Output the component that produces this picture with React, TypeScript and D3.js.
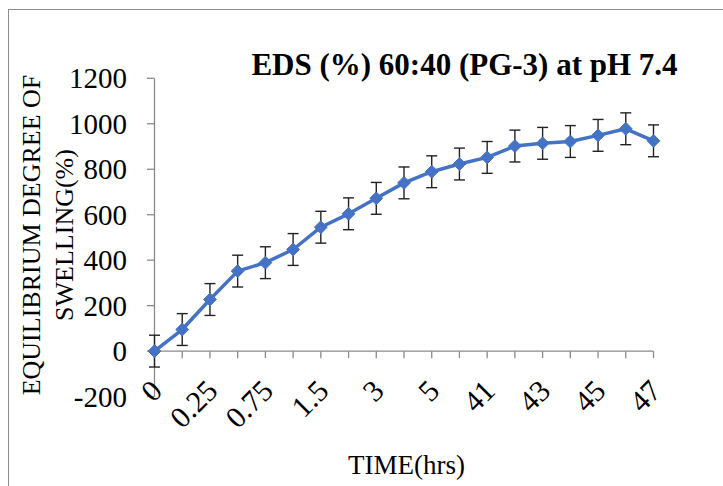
import React from "react";
import * as d3 from "d3";

const categories = ["0", "0.167", "0.25", "0.5", "0.75", "1", "1.5", "2", "3", "4", "5", "24", "41", "42", "43", "44", "45", "46", "47"];
const edsValues = [0, 95, 227, 352, 389, 447, 545, 604, 672, 740, 789, 823, 852, 902, 914, 922, 949, 978, 925];
const edsErrors = [70, 70, 70, 70, 70, 70, 70, 70, 70, 70, 70, 70, 70, 70, 70, 70, 70, 70, 70];
const yTicks = [-200, 0, 200, 400, 600, 800, 1000, 1200];
const titleText = "EDS (%) 60:40 (PG-3) at pH 7.4";
const yTitleLines = ["EQUILIBRIUM DEGREE OF", "SWELLING(%)"];
const xTitle = "TIME(hrs)";

const W = 723;
const H = 486;
const FONT = "'Liberation Serif', 'Times New Roman', serif";

export default function App() {
  const x = d3.scalePoint<string>().domain(categories).range([154.5, 653.5]);
  const y = d3.scaleLinear().domain([-200, 1200]).range([396.6, 78.3]);
  const axisY = y(0);
  const axisColor = "#8a8a8a";
  const lineColor = "#4472C4";

  const line = d3
    .line<number>()
    .x((_, i) => x(categories[i]) as number)
    .y((d) => y(d));

  const diamond = d3.symbol().type(d3.symbolDiamond2).size(105)();

  return (
    <svg
      width={W}
      height={H}
      style={{ position: "absolute", left: 0, top: 0, background: "#fff" }}
      fontFamily={FONT}
    >
      <rect x={0} y={0} width={W} height={H} fill="#fff" />
      <rect x={8.5} y={9.5} width={W + 20} height={H + 20} fill="none" stroke="#8c8c8c" strokeWidth={1} />

      {/* title */}
      <text x={464.5} y={75} textAnchor="middle" fontSize={31} fontWeight="bold" fill="#000">
        {titleText}
      </text>

      {/* y axis */}
      <line x1={154.5} x2={154.5} y1={y(1200)} y2={y(-200)} stroke={axisColor} strokeWidth={1.3} />
      {yTicks.map((t) => (
        <g key={t}>
          <line x1={147} x2={154.5} y1={y(t)} y2={y(t)} stroke={axisColor} strokeWidth={1.3} />
          <text x={127} y={y(t)} dy="0.35em" textAnchor="end" fontSize={29} fill="#000">
            {t}
          </text>
        </g>
      ))}

      {/* x axis */}
      <line x1={154.5} x2={653.5} y1={axisY} y2={axisY} stroke={axisColor} strokeWidth={1.3} />
      {categories.map((c) => (
        <line key={c} x1={x(c)} x2={x(c)} y1={axisY} y2={axisY + 7} stroke={axisColor} strokeWidth={1.3} />
      ))}
      {categories.map((c, i) =>
        i % 2 === 0 ? (
          <text
            key={"l" + c}
            transform={`translate(${(x(c) as number) + 2},${axisY + 34}) rotate(-45)`}
            textAnchor="end"
            dy="0.35em"
            fontSize={30}
            fill="#000"
          >
            {c}
          </text>
        ) : null
      )}

      {/* axis titles */}
      <text x={406.5} y={474} textAnchor="middle" fontSize={27} fill="#000">
        {xTitle}
      </text>
      {yTitleLines.map((t, i) => (
        <text
          key={t}
          transform={`translate(${40 + i * 33},235) rotate(-90)`}
          textAnchor="middle"
          fontSize={26}
          fill="#000"
        >
          {t}
        </text>
      ))}

      {/* line */}
      <path d={line(edsValues) || ""} fill="none" stroke={lineColor} strokeWidth={3.5} strokeLinejoin="round" />

      {/* error bars */}
      {edsValues.map((v, i) => {
        const cx = x(categories[i]) as number;
        const top = y(v + edsErrors[i]);
        const bot = y(v - edsErrors[i]);
        return (
          <g key={"e" + i} stroke="#222" strokeWidth={1.4}>
            <line x1={cx} x2={cx} y1={top} y2={bot} />
            <line x1={cx - 5.5} x2={cx + 5.5} y1={top} y2={top} />
            <line x1={cx - 5.5} x2={cx + 5.5} y1={bot} y2={bot} />
          </g>
        );
      })}

      {/* markers */}
      {edsValues.map((v, i) => (
        <path
          key={"m" + i}
          d={diamond || ""}
          transform={`translate(${x(categories[i])},${y(v)})`}
          fill={lineColor}
          stroke={lineColor}
          strokeWidth={1}
        />
      ))}
    </svg>
  );
}
